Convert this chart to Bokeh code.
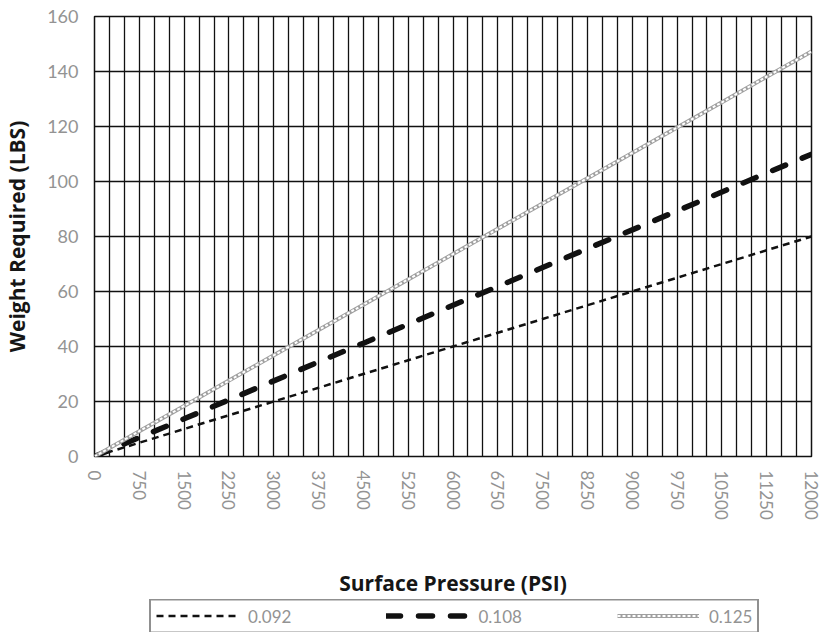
from bokeh.plotting import figure
from bokeh.layouts import column
from bokeh.models import FixedTicker, Legend, LegendItem, Range1d
from bokeh.embed import file_html
from bokeh.resources import INLINE

# Surface pressure (PSI)
pressure = [0, 750, 1500, 2250, 3000, 3750, 4500, 5250, 6000,
            6750, 7500, 8250, 9000, 9750, 10500, 11250, 12000]
# Weight required (LBS) per series
w_092 = [0, 5.0, 10.0, 15.0, 20.0, 25.0, 30.0, 35.0, 40.0,
         45.0, 50.0, 55.0, 60.0, 65.0, 70.0, 75.0, 80.0]
w_108 = [0, 6.9, 13.7, 20.6, 27.5, 34.4, 41.2, 48.1, 55.0,
         61.8, 68.7, 75.6, 82.4, 89.3, 96.2, 103.1, 109.9]
w_125 = [0, 9.2, 18.4, 27.6, 36.8, 46.0, 55.2, 64.4, 73.6,
         82.8, 92.0, 101.2, 110.4, 119.6, 128.8, 138.1, 147.3]
series_names = ["0.092", "0.108", "0.125"]

x_ticks = [0, 750, 1500, 2250, 3000, 3750, 4500, 5250, 6000,
           6750, 7500, 8250, 9000, 9750, 10500, 11250, 12000]
x_grid = list(range(0, 12001, 250))
y_ticks = [0, 20, 40, 60, 80, 100, 120, 140, 160]

styles = [
    [dict(line_color="#111111", line_width=2.5, line_dash="7 5")],
    [dict(line_color="#111111", line_width=5.5, line_dash="14 18", line_cap="round")],
    [dict(line_color="#a0a0a0", line_width=4),
     dict(line_color="white", line_width=2, line_dash="3 2")],
]
series = [w_092, w_108, w_125]

p = figure(width=818, height=586, output_backend="svg", toolbar_location=None,
           x_range=Range1d(0, 12000), y_range=Range1d(0, 160),
           frame_width=717, frame_height=440,
           min_border_left=87, min_border_right=14, min_border_top=16,
           min_border_bottom=10, background_fill_color="white",
           border_fill_color="white")

p.outline_line_color = "#111111"
p.outline_line_width = 1.5

p.xaxis.ticker = FixedTicker(ticks=x_ticks)
p.yaxis.ticker = FixedTicker(ticks=y_ticks)
p.xgrid.ticker = FixedTicker(ticks=x_grid)
p.ygrid.ticker = FixedTicker(ticks=y_ticks)
for g in (p.xgrid, p.ygrid):
    g.grid_line_color = "#111111"
    g.grid_line_width = 1.3
    g.grid_line_alpha = 1.0

for ax in (p.xaxis, p.yaxis):
    ax.axis_line_color = None
    ax.major_tick_line_color = None
    ax.minor_tick_line_color = None
    ax.major_label_text_font = "Lato"
    ax.major_label_text_color = "#939393"
    ax.axis_label_text_font = "Open Sans"
    ax.axis_label_text_font_style = "bold"
    ax.axis_label_text_color = "#161616"
    ax.axis_label_text_font_size = "21px"

p.yaxis.major_label_text_font_size = "18px"
p.yaxis.major_label_standoff = 10
p.yaxis.axis_label = "Weight Required (LBS)"
p.yaxis.axis_label_standoff = 13

p.xaxis.major_label_text_font_size = "17px"
p.xaxis.major_label_orientation = "vertical"
p.xaxis.major_label_standoff = 8
p.xaxis.axis_label = "Surface Pressure (PSI)"
p.xaxis.axis_label_standoff = 46

for ys, st in zip(series, styles):
    for s in st:
        p.line(pressure, ys, **s)

# legend strip below the chart (same series, drawn out of view)
q = figure(width=818, height=33, output_backend="svg", toolbar_location=None,
           x_range=Range1d(-20000, -19000), y_range=Range1d(0, 1),
           min_border=0, background_fill_color="white",
           border_fill_color="white", outline_line_color=None)
q.axis.visible = False
q.grid.visible = False
items = []
for name, ys, st in zip(series_names, series, styles):
    rs = [q.line(pressure, ys, **s) for s in st]
    items.append(LegendItem(label=name, renderers=rs))

legend = Legend(items=items, orientation="horizontal", location="left",
                glyph_width=82, glyph_height=16, label_standoff=10,
                spacing=95, padding=5, margin=55,
                label_text_font="Lato", label_text_font_size="17px",
                label_text_color="#939393",
                border_line_color="#222222", border_line_width=2,
                background_fill_color="white", background_fill_alpha=1.0)
q.add_layout(legend, "center")

layout = column(p, q, spacing=0)
open("out.html", "w").write(file_html(layout, INLINE))
